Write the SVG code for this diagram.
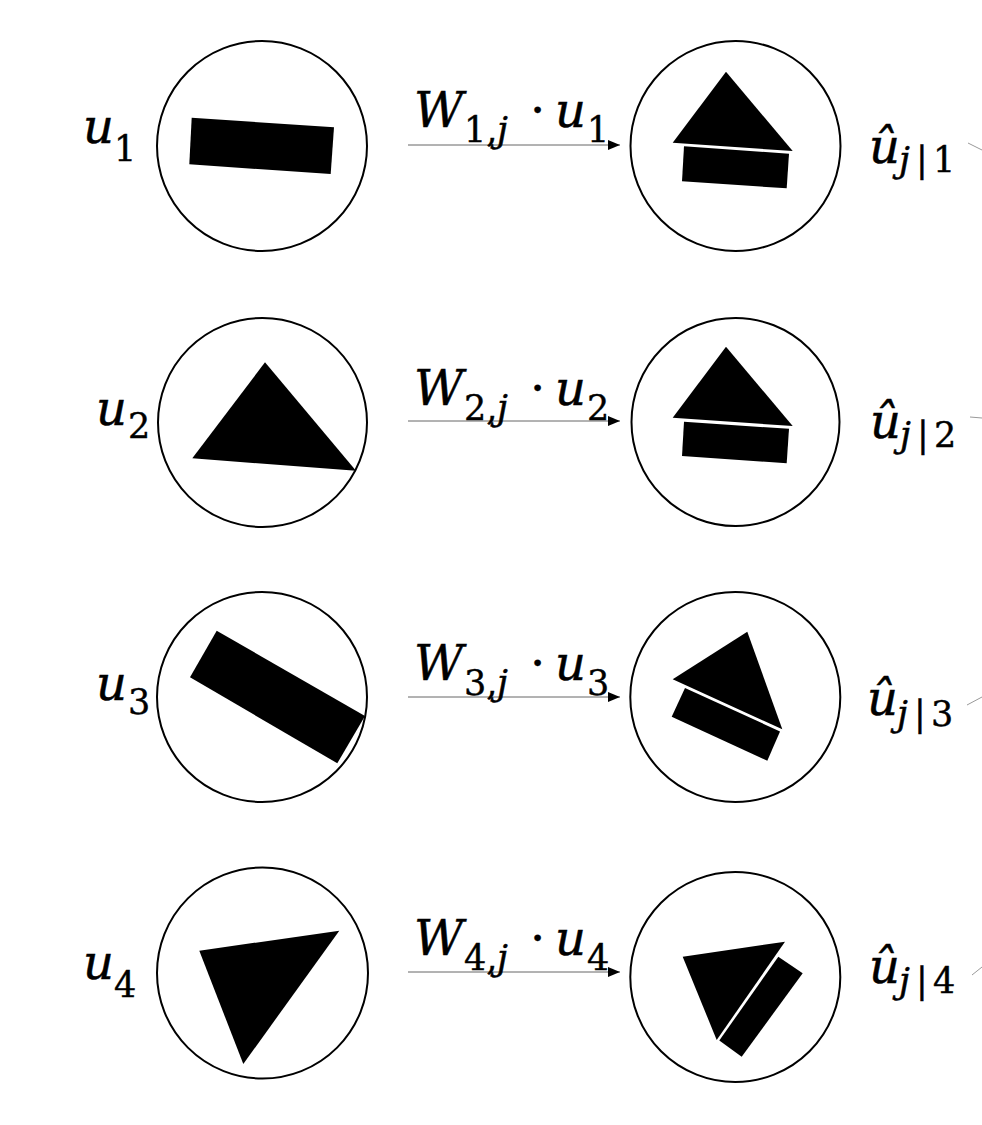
<svg xmlns="http://www.w3.org/2000/svg" width="982" height="1125" viewBox="0 0 982 1125">
<defs>
<style>
.ring{fill:#fff;stroke:#000;stroke-width:2}
.shape{fill:#000;stroke:none}
.it{font-family:"DejaVu Serif","Liberation Serif",serif;font-style:italic;fill:#000;stroke:#000;stroke-width:0.5}
.up{font-family:"DejaVu Serif","Liberation Serif",serif;font-style:normal;fill:#000;stroke:#000;stroke-width:0.4}
.main{font-size:48px}
.sub{font-size:35px}
.edge{stroke:#666;stroke-width:1;fill:none}
.tail{stroke:#999;stroke-width:1;fill:none}
</style>
<marker id="ah" markerWidth="12" markerHeight="10" refX="12" refY="5" orient="auto" markerUnits="userSpaceOnUse">
<path d="M0,0 L12,5 L0,10 Z" fill="#000"/>
</marker>
</defs>
<rect width="982" height="1125" fill="#fff"/>

<!-- Row 1 -->
<g id="u1">
<circle class="ring" cx="262" cy="146" r="105"/>
<polygon class="shape" points="191.7,117.7 334,127.3 330.7,174 189.3,164.3"/>
<text class="it main" x="83" y="143">u</text><text class="up sub" x="114" y="161">1</text>
</g>
<g id="uhat1">
<circle class="ring" cx="735.5" cy="146" r="105"/>
<polygon class="shape" points="726,71.7 672.7,142.7 792.7,151"/>
<polygon class="shape" points="684,146.2 789,153.8 786.7,188.3 682,181.3"/>
<text class="it main" x="869" y="163">û</text><text class="it sub" x="899" y="172">j</text><text class="up sub" x="916" y="172">|</text><text class="up sub" x="933" y="172">1</text>
</g>

<!-- Row 2 -->
<g id="u2">
<circle class="ring" cx="262.5" cy="422.5" r="104.5"/>
<polygon class="shape" points="265,362.3 192.3,458.3 356,470.7"/>
<text class="it main" x="96" y="425">u</text><text class="up sub" x="128" y="438">2</text>
</g>
<g id="uhat2">
<circle class="ring" cx="735.5" cy="422" r="104"/>
<polygon class="shape" points="726,346.7 672.7,417.7 792.7,426"/>
<polygon class="shape" points="684,421.8 789,428.8 786.7,463.3 682,456"/>
<text class="it main" x="870" y="438">û</text><text class="it sub" x="900" y="447">j</text><text class="up sub" x="917" y="447">|</text><text class="up sub" x="934" y="447">2</text>
</g>

<!-- Row 3 -->
<g id="u3">
<circle class="ring" cx="262" cy="697" r="105"/>
<polygon class="shape" points="216.7,630.7 365,716 337.3,763.3 190,677.3"/>
<text class="it main" x="96" y="700">u</text><text class="up sub" x="128" y="714">3</text>
</g>
<g id="uhat3">
<circle class="ring" cx="735.3" cy="697" r="105"/>
<polygon class="shape" points="747.3,631.7 672.7,679.3 782.3,729.3"/>
<polygon class="shape" points="685,688 780,731.4 767.3,760.7 671.7,716.7"/>
<text class="it main" x="867" y="715">û</text><text class="it sub" x="897" y="726">j</text><text class="up sub" x="914" y="726">|</text><text class="up sub" x="931" y="726">3</text>
</g>

<!-- Row 4 -->
<g id="u4">
<circle class="ring" cx="262.5" cy="973" r="105.5"/>
<polygon class="shape" points="199.3,950.7 339.3,930.7 243.3,1064"/>
<text class="it main" x="83" y="979">u</text><text class="up sub" x="114" y="997">4</text>
</g>
<g id="uhat4">
<circle class="ring" cx="735.3" cy="977" r="105"/>
<polygon class="shape" points="682.7,956.7 785,941.7 716.7,1040"/>
<polygon class="shape" points="778.3,956.7 802.7,973.3 741.7,1056.7 719.3,1040.5"/>
<text class="it main" x="869" y="983">û</text><text class="it sub" x="899" y="993">j</text><text class="up sub" x="916" y="993">|</text><text class="up sub" x="933" y="993">4</text>
</g>

<!-- Connectors -->
<g id="connectors">
<line class="edge" x1="408" y1="145" x2="620" y2="145" marker-end="url(#ah)"/>
<line class="edge" x1="408" y1="421" x2="620" y2="421" marker-end="url(#ah)"/>
<line class="edge" x1="408" y1="697" x2="620" y2="697" marker-end="url(#ah)"/>
<line class="edge" x1="408" y1="972" x2="620" y2="972" marker-end="url(#ah)"/>

<text class="it main" x="414" y="127">W</text><text class="up sub" x="464" y="142">1,</text><text class="it sub" x="497" y="142">j</text><text class="up main" x="530" y="127">·</text><text class="it main" x="555" y="127">u</text><text class="up sub" x="587" y="142">1</text>
<text class="it main" x="414" y="405">W</text><text class="up sub" x="464" y="420">2,</text><text class="it sub" x="497" y="420">j</text><text class="up main" x="530" y="405">·</text><text class="it main" x="555" y="405">u</text><text class="up sub" x="587" y="420">2</text>
<text class="it main" x="414" y="680">W</text><text class="up sub" x="464" y="695">3,</text><text class="it sub" x="497" y="695">j</text><text class="up main" x="530" y="680">·</text><text class="it main" x="555" y="680">u</text><text class="up sub" x="587" y="695">3</text>
<text class="it main" x="414" y="955">W</text><text class="up sub" x="464" y="970">4,</text><text class="it sub" x="497" y="970">j</text><text class="up main" x="530" y="955">·</text><text class="it main" x="555" y="955">u</text><text class="up sub" x="587" y="970">4</text>

<line class="tail" x1="968" y1="143" x2="982" y2="150"/>
<line class="tail" x1="970" y1="417" x2="982" y2="418"/>
<line class="tail" x1="967" y1="705" x2="982" y2="697"/>
<line class="tail" x1="972" y1="975" x2="982" y2="967"/>
</g>
</svg>
